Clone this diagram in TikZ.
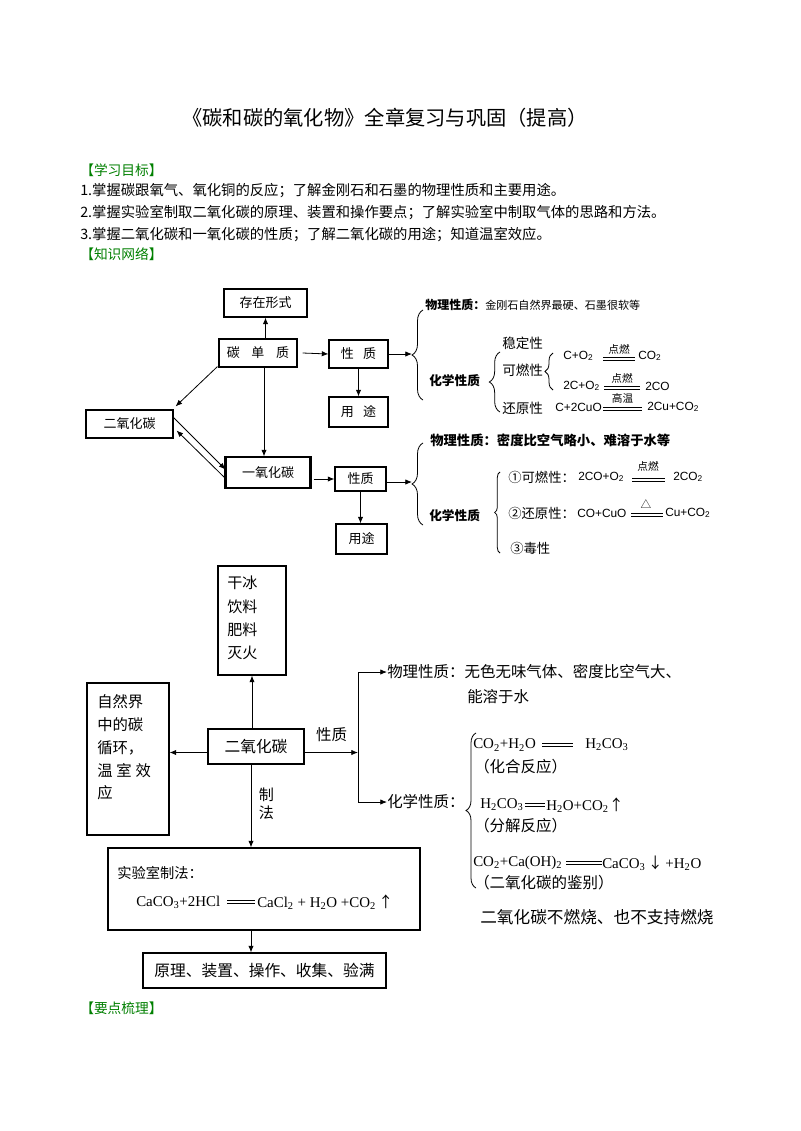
\documentclass[tikz,border=0pt]{standalone}
\usepackage{fontspec}
\setmainfont{Noto Sans CJK SC}
\newfontfamily\arialf{Liberation Sans}
\newfontfamily\tnrf{Liberation Serif}
\usetikzlibrary{arrows.meta,decorations.pathreplacing,fit,calc}
\definecolor{hdgreen}{RGB}{0,128,0}
\newcommand\fs[1]{\fontsize{#1}{#1}\selectfont}
\newcommand\sbs[1]{\textsubscript{#1}}
\newcommand\uparr{{\normalfont ↑}}
\newcommand\dnarr{{\normalfont ↓}}
\begin{document}
\begin{tikzpicture}[x=0.75pt,y=-0.75pt,
  box/.style={draw, line width=0.8pt, inner sep=0pt},
  txt/.style={inner sep=0pt, anchor=west},
  arr/.style={-{Latex[length=5pt,width=4pt]}, line width=0.6pt},
  dbl/.style={double, double distance=1.3pt, line width=0.6pt},
  cbrace/.style={decorate, decoration={brace, amplitude=#1}, line width=0.6pt},
  ufont/.style={font=\fs{9.75pt}},
  afont/.style={font=\arialf\fs{8.9pt}},
  tfont/.style={font=\tnrf\fs{11.2pt}},
  lfont/.style={font=\fs{11.6pt}},
]
\fill[white] (0,0) rectangle (800,1131);
\useasboundingbox (0,0) rectangle (800,1131);

% ---------- header ----------
\node[font=\fs{15.2pt}, inner sep=0pt] (title) at (385,118) {《碳和碳的氧化物》全章复习与巩固（提高）};
\node[txt, text=hdgreen, font=\fs{10.3pt}] (h1) at (80,170) {【学习目标】};
\node[txt, font=\fs{10.75pt}] (o1) at (80,191) {1.掌握碳跟氧气、氧化铜的反应；了解金刚石和石墨的物理性质和主要用途。};
\node[txt, font=\fs{10.75pt}] (o2) at (80,213) {2.掌握实验室制取二氧化碳的原理、装置和操作要点；了解实验室中制取气体的思路和方法。};
\node[txt, font=\fs{10.75pt}] (o3) at (80,235) {3.掌握二氧化碳和一氧化碳的性质；了解二氧化碳的用途；知道温室效应。};
\node[txt, text=hdgreen, font=\fs{10.3pt}] (h2) at (80,254) {【知识网络】};

% ---------- upper diagram boxes ----------
\node[box, fit={(224,289) (307,317)}] (czxs) {};
\node[ufont] at (czxs) {存在形式};
\node[box, fit={(219,339) (297,367)}] (tdz) {};
\node[ufont] at (tdz) {碳\hspace{0.9em}单\hspace{0.9em}质};
\node[box, fit={(329,340) (388,368)}] (xz1) {};
\node[ufont] at (xz1) {性\hspace{0.7em}质};
\node[box, fit={(329,397) (388,427)}] (yt1) {};
\node[ufont] at (yt1) {用\hspace{0.7em}途};
\node[box, fit={(86,410) (173,438)}] (eyht) {};
\node[ufont] at (eyht) {二氧化碳};
\node[box, fit={(226,457) (310,488)}] (yyht) {};
\draw[line width=1.6pt] (yyht.north west) -- (yyht.south west);
\draw[line width=1.6pt] (yyht.north east) -- (yyht.south east);
\node[ufont] at (yyht) {一氧化碳};
\node[box, fit={(335,467) (386,491)}] (xz2) {};
\node[ufont] at (xz2) {性质};
\node[box, fit={(336,524) (387,554)}] (yt2) {};
\node[ufont] at (yt2) {用途};

% ---------- upper connectors ----------
\draw[arr] (czxs.south |- tdz.north) -- (czxs.south);
\draw[arr] ($(tdz.east)+(5,0)$) -- (xz1.west);
\draw[arr] (xz1.south) -- (yt1.north);
\coordinate (b1tip) at (412,354);
\draw[arr] (xz1.east) -- (b1tip);
\draw[arr] ($(tdz.south west)+(-1,-1)$) -- ($(eyht.north east)+(2,-3)$);
\coordinate (cv) at ($(tdz.south)+(6,0)$);
\draw[arr] (cv) -- (cv |- yyht.north);
\draw[arr] ($(eyht.north east)+(0,8)$) -- ($(yyht.north west)+(0,13)$);
\draw[arr] ($(yyht.north west)+(0,22)$) -- ($(eyht.north east)+(3,21)$);
\coordinate (cy) at ($(yyht.east |- xz2.west)+(3,0)$);
\draw[arr] (cy) -- (xz2.west);
\draw[arr] (xz2.south) -- (xz2.south |- yt2.north);
\coordinate (b4tip) at (412,482);
\draw[arr] (b4tip -| xz2.east) -- (b4tip);

% ---------- carbon properties ----------
\draw[cbrace=8.25pt] (423,400) -- (423,310);
\node[txt] (wl1) at (425,305) {\fs{9pt}\bfseries 物理性质：\fs{8.3pt}\mdseries 金刚石自然界最硬、石墨很软等};
\node[txt, font=\fs{9.5pt}\bfseries] (hx1) at (429,381) {化学性质};
\draw[cbrace=8pt] (500,412) -- (500,352);
\node[txt, font=\fs{10.2pt}] (wdx) at (502,343) {稳定性};
\node[txt, font=\fs{10.2pt}] (krx) at (502,370) {可燃性};
\draw[cbrace=6pt] (553,390) -- (553,353);
\node[txt, font=\fs{10.2pt}] (hyx) at (502,408) {还原性};
% C + O2
\node[txt, afont] (f1a) at (563,356) {C+O\sbs{2}};
\draw[dbl] (603,359) -- (635,359);
\node[font=\fs{8pt}, inner sep=0pt] (f1c) at (619,349) {点燃};
\node[txt, afont] (f1b) at (638,356) {CO\sbs{2}};
% 2C + O2
\node[txt, afont] (f2a) at (563,386) {2C+O\sbs{2}};
\draw[dbl] (604,388) -- (640,388);
\node[font=\fs{8pt}, inner sep=0pt] (f2c) at (622,378) {点燃};
\node[txt, afont] (f2b) at (645,386) {2CO};
% C + 2CuO
\node[txt, afont] (f3a) at (555,407) {C+2CuO};
\draw[dbl] (603,409) -- (642,409);
\node[font=\fs{8pt}, inner sep=0pt] (f3c) at (622.5,398) {高温};
\node[txt, afont] (f3b) at (647,407) {2Cu+CO\sbs{2}};

% ---------- CO properties ----------
\draw[cbrace=8.25pt] (423,525) -- (423,443);
\node[txt, font=\fs{10pt}\bfseries] (wl2) at (430,440) {物理性质：密度比空气略小、难溶于水等};
\node[txt, font=\fs{9.5pt}\bfseries] (hx2) at (429,516) {化学性质};
\draw[cbrace=4pt] (500,553) -- (500,472);
\node[txt, font=\fs{10pt}] (c1) at (508,477) {①可燃性：};
\node[txt, afont] (g1a) at (578,477) {2CO+O\sbs{2}};
\draw[dbl] (632,480) -- (665,480);
\node[font=\fs{8pt}, inner sep=0pt] (g1c) at (648,466) {点燃};
\node[txt, afont] (g1b) at (673,477) {2CO\sbs{2}};
\node[txt, font=\fs{10pt}] (c2) at (508,513) {②还原性：};
\node[txt, afont] (g2a) at (577,513) {CO+CuO};
\draw[dbl] (631,515) -- (663,515);
\node[font=\fs{8pt}, inner sep=0pt] (g2c) at (646,504) {△};
\node[txt, afont] (g2b) at (665,513) {Cu+CO\sbs{2}};
\node[txt, font=\fs{10pt}] (c3) at (510,548) {③毒性};

% ---------- lower diagram boxes ----------
\node[box, fit={(218,566) (286,675)}] (gan) {};
\node[txt, font={\fontsize{11.3pt}{17.5pt}\selectfont}, align=left] at (227,618) {干冰\\饮料\\肥料\\灭火};
\node[box, fit={(87,683) (169,835)}] (zrj) {};
\node[txt, font={\fontsize{11.5pt}{17.1pt}\selectfont}, align=left] at (97,747.5) {自然界\\中的碳\\循环，\\温\hspace{0.25em}室\hspace{0.25em}效\\应};
\node[box, fit={(208,729) (304,764)}] (co2) {};
\node[font=\fs{11.8pt}] at (co2) {二氧化碳};
\node[box, fit={(108,848) (420,930)}] (sys) {};
\node[txt, font=\fs{10.7pt}] (sysa) at (117,873) {实验室制法：};
\node[txt, tfont] (sysb) at (136,902) {CaCO\sbs{3}+2HCl};
\draw[dbl] (227,902) -- (255,902);
\node[txt, tfont] (sysc) at (257,902) {CaCl\sbs{2} + H\sbs{2}O +CO\sbs{2}\,\uparr};
\node[box, fit={(143,953) (386,988)}] (yl) {};
\node[font=\fs{11.8pt}] at (yl) {原理、装置、操作、收集、验满};

% ---------- lower connectors ----------
\draw[arr] (gan.south |- co2.north) -- (gan.south);
\coordinate (cl) at ($(co2.west)+(0,6)$);
\draw[arr] (cl) -- (cl -| zrj.east);
\coordinate (cr) at ($(co2.east)+(0,6)$);
\coordinate (vj) at (358,752.5);
\draw[arr] (cr) -- (vj);
\node[lfont, inner sep=0pt] (xzl) at (331.5,735) {性质};
\coordinate (vt) at (358,672);
\coordinate (vb) at (358,802);
\draw[line width=0.6pt] (vt) -- (vb);
\node[txt, lfont] (wl3) at (387,672) {物理性质：无色无味气体、密度比空气大、};
\node[txt, lfont] (wl3b) at (467,697) {能溶于水};
\node[txt, lfont] (hx3) at (387,802) {化学性质：};
\draw[arr] (vt) -- (wl3.west);
\draw[arr] (vb) -- (hx3.west);
\coordinate (cd) at ($(co2.south)+(-5,0)$);
\draw[arr] (cd) -- (cd |- sys.north);
\node[font={\fontsize{11.3pt}{13.5pt}\selectfont}, align=center, inner sep=0pt] (zf) at (266.5,804) {制\\法};
\draw[arr] (cd |- sys.south) -- (cd |- yl.north);

% ---------- CO2 chemistry ----------
\draw[cbrace=7.5pt] (476,888) -- (476,733);
\node[txt, tfont] (e1a) at (473,745) {CO\sbs{2}+H\sbs{2}O};
\draw[dbl] (542,745) -- (573,745);
\node[txt, tfont] (e1b) at (585,745) {H\sbs{2}CO\sbs{3}};
\node[txt, lfont] (e1c) at (474,767) {（化合反应）};
\node[txt, tfont] (e2a) at (480,805) {H\sbs{2}CO\sbs{3}};
\draw[dbl] (525,805) -- (545,805);
\node[txt, tfont] (e2b) at (546,805) {H\sbs{2}O+CO\sbs{2}\uparr};
\node[txt, lfont] (e2c) at (474,826) {（分解反应）};
\node[txt, tfont] (e3a) at (473,863) {CO\sbs{2}+Ca(OH)\sbs{2}};
\draw[dbl] (566,863) -- (602,863);
\node[txt, tfont] (e3b) at (602,863) {CaCO\sbs{3}\,\dnarr\,+H\sbs{2}O};
\node[txt, lfont] (e3c) at (474,883) {（二氧化碳的鉴别）};
\node[txt, font=\fs{12.5pt}] (nb) at (480,917) {二氧化碳不燃烧、也不支持燃烧};

\node[txt, text=hdgreen, font=\fs{10.3pt}] (h3) at (80,1008) {【要点梳理】};
\end{tikzpicture}
\end{document}
